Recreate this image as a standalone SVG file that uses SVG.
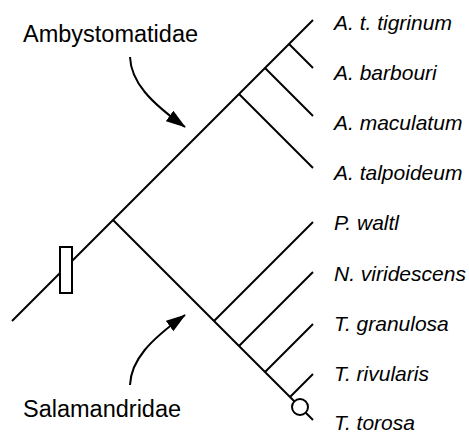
<svg xmlns="http://www.w3.org/2000/svg" width="469" height="433" viewBox="0 0 469 433">
<style>
.br{stroke:#000;stroke-width:2;fill:none;stroke-linecap:butt}
.sp{font-family:"Liberation Sans",Arial,sans-serif;font-style:italic;font-size:21px;fill:#000}
.fam{font-family:"Liberation Sans",Arial,sans-serif;font-size:23.5px;fill:#000}
.arr{stroke:#000;stroke-width:2;fill:none}
</style>
<defs>
<marker id="ah" markerUnits="userSpaceOnUse" markerWidth="22" markerHeight="14" refX="19" refY="6.5" orient="auto">
<path d="M0,0 L20,6.5 L0,13 Z" fill="#000"/>
</marker>
</defs>
<rect width="469" height="433" fill="#fff"/>
<g id="connectors">
<path class="br" d="M12,321 L313,20"/>
<path class="br" d="M289,44 L313,68"/>
<path class="br" d="M265,68 L313,116"/>
<path class="br" d="M239,94 L313,168"/>
<path class="br" d="M113,220 L313,420"/>
<path class="br" d="M214,321 L313,222"/>
<path class="br" d="M239,346 L313,272"/>
<path class="br" d="M265,372 L313,324"/>
<path class="br" d="M290,397 L313,374"/>
<path class="arr" d="M130,57 C131,82 150,102 185,127" marker-end="url(#ah)"/>
<path class="arr" d="M130,385 C131,360 150,340 185,315" marker-end="url(#ah)"/>
</g>
<g id="synapomorphy">
<rect x="60" y="247" width="12" height="46" fill="#fff" stroke="#000" stroke-width="2"/>
</g>
<g id="tip-marker">
<circle cx="300" cy="407" r="8" fill="#fff" stroke="#000" stroke-width="2"/>
</g>
<g id="label-ambystomatidae"><text class="fam" x="23" y="42">Ambystomatidae</text></g>
<g id="label-salamandridae"><text class="fam" x="23" y="417">Salamandridae</text></g>
<g id="taxa">
<g id="t1"><text class="sp" x="334" y="30">A. t. tigrinum</text></g>
<g id="t2"><text class="sp" x="334" y="80">A. barbouri</text></g>
<g id="t3"><text class="sp" x="334" y="130">A. maculatum</text></g>
<g id="t4"><text class="sp" x="334" y="180">A. talpoideum</text></g>
<g id="t5"><text class="sp" x="334" y="230">P. waltl</text></g>
<g id="t6"><text class="sp" x="334" y="281">N. viridescens</text></g>
<g id="t7"><text class="sp" x="334" y="331">T. granulosa</text></g>
<g id="t8"><text class="sp" x="334" y="381">T. rivularis</text></g>
<g id="t9"><text class="sp" x="334" y="430">T. torosa</text></g>
</g>
</svg>
